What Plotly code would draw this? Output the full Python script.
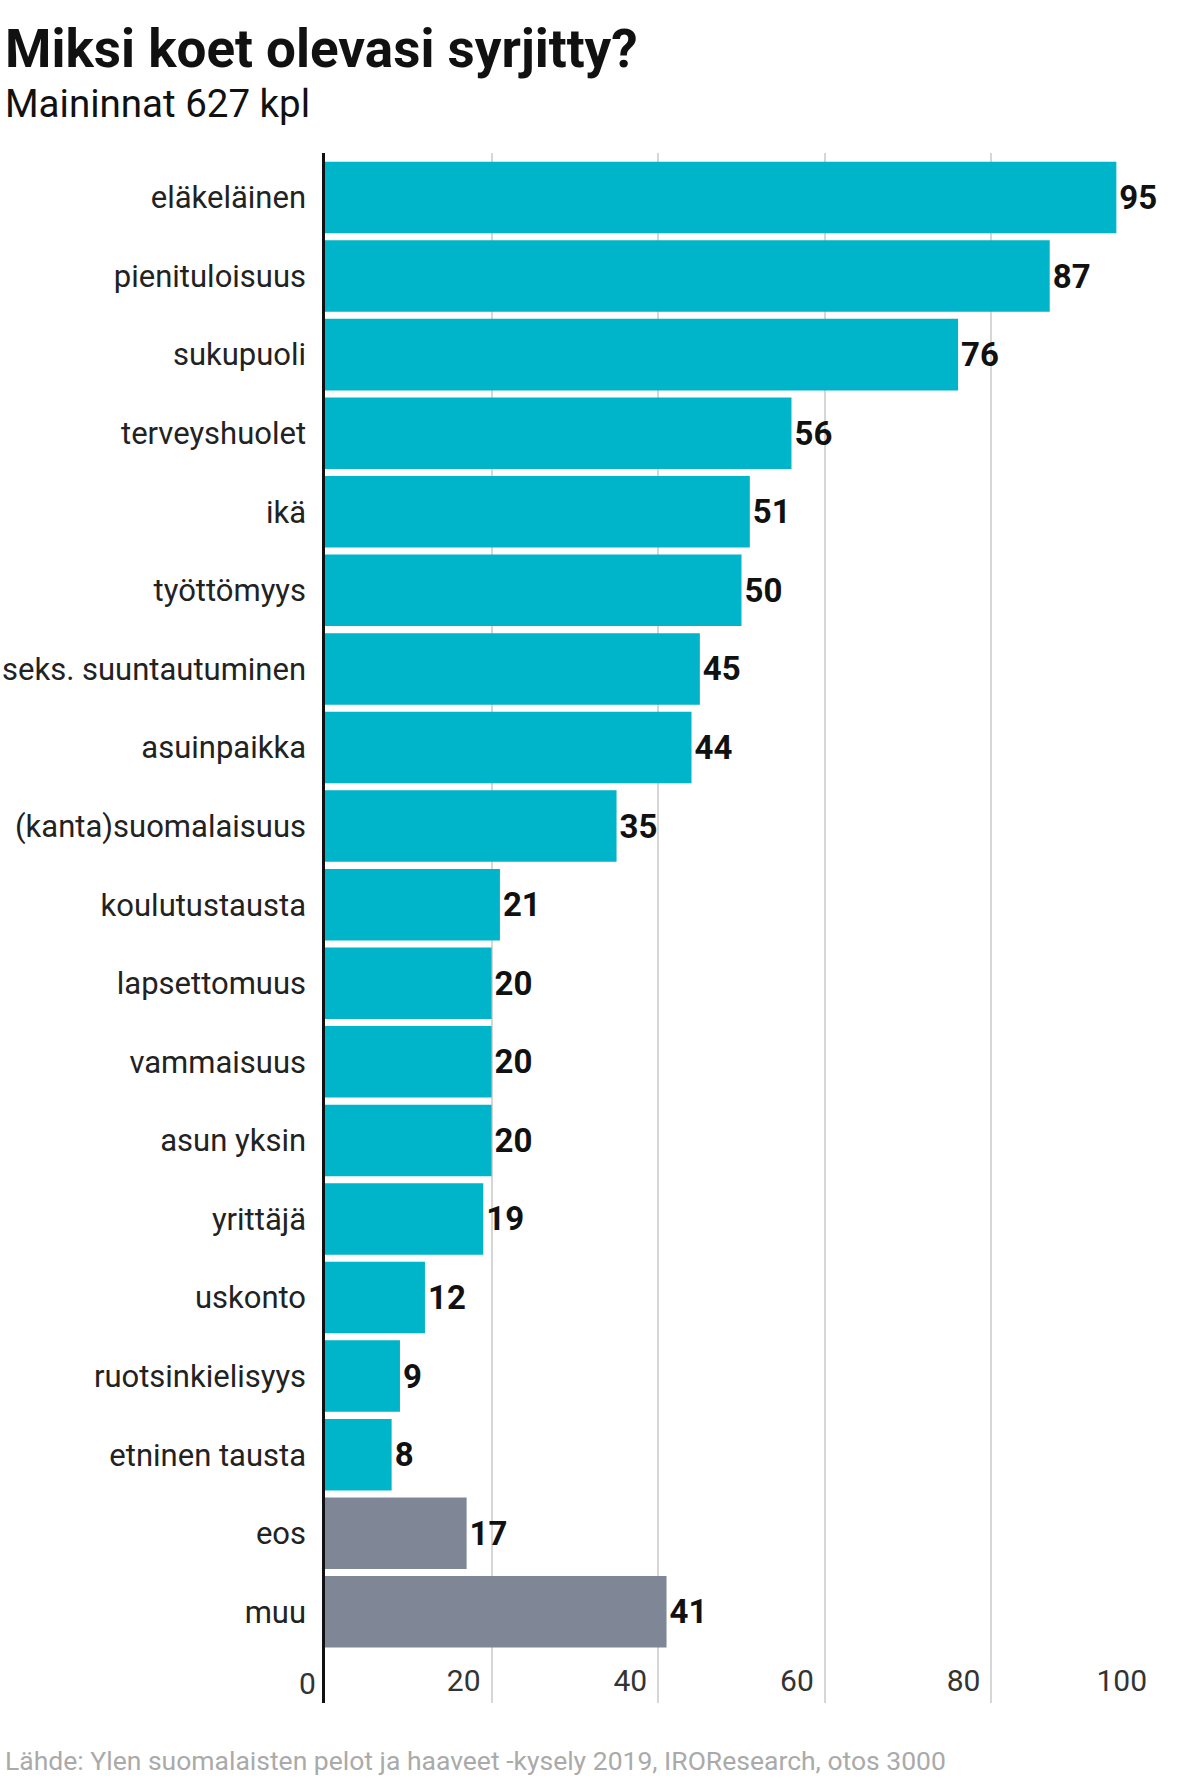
import plotly.graph_objects as go

# Survey answers: why do you feel discriminated against (mentions, 627 total)
categories = [
    "eläkeläinen", "pienituloisuus", "sukupuoli", "terveyshuolet", "ikä",
    "työttömyys", "seks. suuntautuminen", "asuinpaikka", "(kanta)suomalaisuus",
    "koulutustausta", "lapsettomuus", "vammaisuus", "asun yksin", "yrittäjä",
    "uskonto", "ruotsinkielisyys", "etninen tausta", "eos", "muu",
]
mentions = [95, 87, 76, 56, 51, 50, 45, 44, 35, 21, 20, 20, 20, 19, 12, 9, 8, 17, 41]
# "eos" and "muu" are the other-type answers, shown in grey
groups = ["main"] * 17 + ["other"] * 2
x_ticks = [0, 20, 40, 60, 80, 100]

TEAL = "#00b5c9"
GREY = "#7f8696"
FONT = "Roboto"

W, H = 1199, 1786
L, R, T, B = 325, 41, 153, 83
plot_w = W - L - R
plot_h = H - T - B

colors = [TEAL if g == "main" else GREY for g in groups]

fig = go.Figure(go.Bar(
    x=mentions,
    y=categories,
    orientation="h",
    marker=dict(color=colors, line=dict(width=0)),
    text=mentions,
    texttemplate="%{text}",
    textposition="outside",
    constraintext="none",
    cliponaxis=False,
    textfont=dict(family=FONT, size=33, color="#111111", weight="bold"),
    hoverinfo="skip",
))

fig.update_layout(
    width=W,
    height=H,
    margin=dict(l=L, r=R, t=T, b=B, autoexpand=False),
    paper_bgcolor="white",
    plot_bgcolor="white",
    bargap=0.09,
    showlegend=False,
    font=dict(family=FONT, color="#222222"),
    title=dict(
        text="Miksi koet olevasi syrjitty?",
        xref="container", yref="container",
        x=5 / W, xanchor="left",
        y=1 - 48 / H, yanchor="middle",
        pad=dict(l=0, r=0, t=0, b=0),
        font=dict(family=FONT, size=53, color="#111111", weight="bold"),
    ),
)

# subtitle and source line
fig.add_annotation(
    text="Maininnat 627 kpl",
    xref="paper", yref="paper",
    x=(5 - L) / plot_w, xanchor="left", xshift=-2,
    y=(H - B - 103) / plot_h, yanchor="middle",
    showarrow=False,
    font=dict(family=FONT, size=38.5, color="#111111"),
)
fig.add_annotation(
    text="Lähde: Ylen suomalaisten pelot ja haaveet -kysely 2019, IROResearch, otos 3000",
    xref="paper", yref="paper",
    x=(5 - L) / plot_w, xanchor="left", xshift=-2,
    y=(H - B - 1760) / plot_h, yanchor="middle",
    showarrow=False,
    font=dict(family=FONT, size=26.5, color="#aaaaaa"),
)
# the "0" tick sits left of the axis line, outside the plot area, so plotly hides it
fig.add_annotation(
    text=str(x_ticks[0]),
    xref="x", yref="paper",
    x=x_ticks[0], xanchor="right", xshift=-7,
    y=20 / plot_h, yanchor="middle",
    showarrow=False,
    font=dict(family=FONT, size=30, color="#333333"),
)

fig.update_xaxes(
    range=[0, 100],
    tickvals=x_ticks,
    ticks="",
    ticklabelposition="inside left",
    ticklabelshift=-11,
    tickfont=dict(family=FONT, size=30, color="#333333"),
    showgrid=True,
    gridcolor="#d6d6d6",
    gridwidth=1.5,
    zeroline=False,
    showline=False,
    automargin=False,
    fixedrange=True,
)
fig.update_yaxes(
    categoryorder="array",
    categoryarray=categories,
    range=[len(categories) + 0.16, -0.566],
    ticks="",
    ticklabelstandoff=10,
    tickfont=dict(family=FONT, size=31, color="#222222"),
    showline=True,
    linecolor="#111111",
    linewidth=2.5,
    showgrid=False,
    zeroline=False,
    automargin=False,
    fixedrange=True,
)

fig.write_html(
    "out.html",
    config={"displayModeBar": False},
    post_script="document.body.style.margin = '0';",
)
